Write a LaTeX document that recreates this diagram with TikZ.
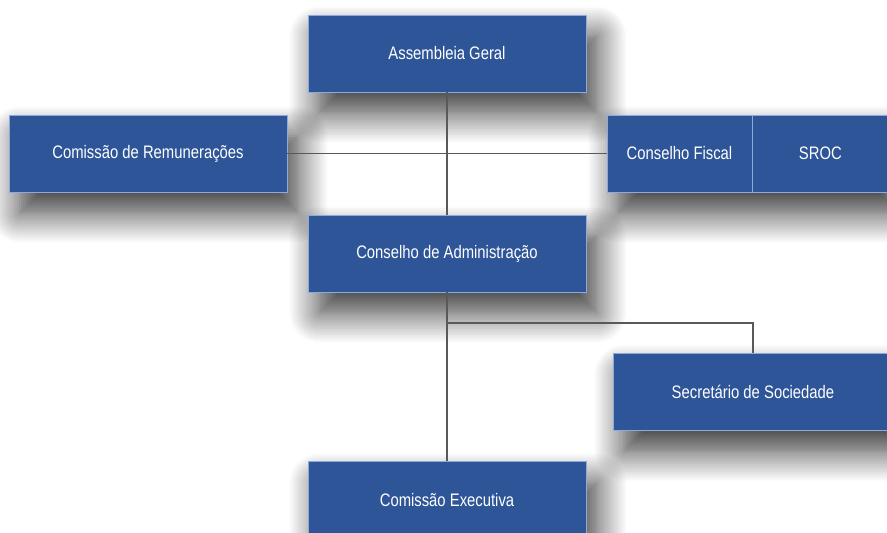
\documentclass[tikz,border=0pt]{standalone}
\usepackage{fontspec}
\setmainfont{Liberation Sans}[FakeStretch=0.82]
\usetikzlibrary{shadows.blur,positioning,fit}
\definecolor{boxblue}{HTML}{2E5597}
\definecolor{boxedge}{HTML}{8EA9DB}
\definecolor{linkgrey}{HTML}{595959}
\pgfdeclarelayer{background}
\pgfsetlayers{background,main}

\begin{document}
\begin{tikzpicture}[x=0.02cm,y=-0.02cm]
        \tikzstyle{soft shadow} = [blur shadow={shadow xshift=0.22cm, shadow yshift=-0.42cm, shadow blur radius=0.6cm, shadow blur steps=16, shadow opacity=80}]
        \tikzstyle{plain block} = [draw=boxedge, line width=0.5pt, fill=boxblue, text=white, rectangle, minimum height=1.54cm, minimum width=5.56cm, font=\fontsize{10.3}{12}\selectfont]
        \tikzstyle{block} = [plain block, soft shadow]
        \tikzstyle{link} = [draw=linkgrey, line width=0.6pt]

        \useasboundingbox (0,0) rectangle (887,533);

        \node [block] (ag) at (447,53.5) {Assembleia Geral};
        \node [block] (cr) at (148,153.5) {Comissão de Remunerações};
        \node [plain block, minimum width=2.9cm] (cf) at (679.5,153.5) {Conselho Fiscal};
        \node [plain block, minimum width=2.7cm, right=0pt of cf] (sroc) {SROC};
        \node [block, below of=ag, node distance=4cm] (ca) {Conselho de Administração};
        \node [block, minimum width=5.6cm] (ss) at (753,392) {Secretário de Sociedade};
        \node [block, below of=ca, node distance=4.94cm] (ce) {Comissão Executiva};
        \coordinate (split) at (447,323);

        % one shadow for the pair
        \begin{pgfonlayer}{background}
            \node [fit=(cf)(sroc), inner sep=0pt, soft shadow] (pair) {};
        \end{pgfonlayer}

        \draw [link] (ag) -- (ca);
        \draw [link] (cr) -- (cf);
        \draw [link] (ca) -- (ce);
        \draw [link] (split) -| (ss.north);
    \end{tikzpicture}
\end{document}
